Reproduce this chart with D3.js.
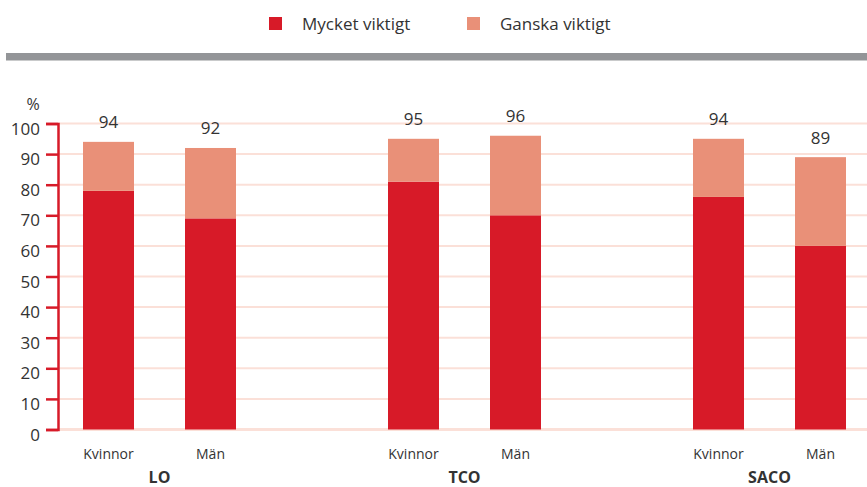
<!DOCTYPE html>
<html>
<head>
<meta charset="utf-8">
<script src="https://cdn.jsdelivr.net/npm/d3@7"></script>
<style>
  body { margin: 0; background: #fff; }
  svg text { font-family: "Open Sans", "Noto Sans", sans-serif; fill: #333; }
</style>
</head>
<body>
<div id="chart"></div>
<script>
//data
var groups = ["LO", "TCO", "SACO"];
var subGroups = ["Kvinnor", "Män"];
var seriesNames = ["Mycket viktigt", "Ganska viktigt"];
//values in group order, Kvinnor then Män
var mycket = [78, 69, 81, 70, 76, 60];
var ganska = [16, 23, 14, 26, 19, 29];
var totals = [94, 92, 95, 96, 94, 89];
var yTicks = [0, 10, 20, 30, 40, 50, 60, 70, 80, 90, 100];

var colors = ["#d71a28", "#e99078"];

var width = 867, height = 487;

//build rows for stacking
var rows = [];
groups.forEach(function(g, gi) {
    subGroups.forEach(function(s, si) {
        var i = gi * 2 + si;
        rows.push({group: g, sub: s, "Mycket viktigt": mycket[i], "Ganska viktigt": ganska[i], total: totals[i]});
    });
});

var svg = d3.select("#chart").append("svg")
    .attr("width", width)
    .attr("height", height);

//scales
var yScale = d3.scaleLinear().domain([0, 100]).range([429.5, 123.5]);
var xGroup = d3.scalePoint().domain(groups).range([159.5, 769.5]);
var xSub = d3.scaleBand().domain(subGroups).range([-76.5, 76.5]).paddingInner(0.5).paddingOuter(0);

//legend
var legend = svg.append("g").attr("class", "legend");
var legendX = [269, 467];
seriesNames.forEach(function(name, i) {
    legend.append("rect")
        .attr("x", legendX[i]).attr("y", 17)
        .attr("width", 13).attr("height", 13)
        .attr("fill", colors[i]);
    legend.append("text")
        .attr("x", legendX[i] + 33).attr("y", 30)
        .style("font-size", "17px")
        .text(name);
});

//grey rule under the legend
svg.append("rect")
    .attr("x", 6).attr("y", 53)
    .attr("width", width - 6).attr("height", 7.5)
    .attr("fill", "#939598");

//gridlines
svg.append("g").selectAll("line")
    .data(yTicks)
    .enter().append("line")
    .attr("x1", 58).attr("x2", width)
    .attr("y1", d => yScale(d)).attr("y2", d => yScale(d))
    .attr("stroke", "#fbe0d8")
    .attr("stroke-width", d => d === 0 ? 3 : 2);

//stacked bars
var stack = d3.stack().keys(seriesNames);
var stacked = stack(rows);

svg.append("g").selectAll("g")
    .data(stacked)
    .enter().append("g")
    .attr("fill", (d, i) => colors[i])
    .selectAll("rect")
    .data(d => d)
    .enter().append("rect")
    .attr("x", d => xGroup(d.data.group) + xSub(d.data.sub))
    .attr("width", xSub.bandwidth())
    .attr("y", d => yScale(d[1]))
    .attr("height", d => yScale(d[0]) - yScale(d[1]));

//total labels above bars
svg.append("g").selectAll("text")
    .data(rows)
    .enter().append("text")
    .attr("x", d => xGroup(d.group) + xSub(d.sub) + xSub.bandwidth() / 2)
    .attr("y", d => yScale(d["Mycket viktigt"] + d["Ganska viktigt"]) - 13.5)
    .attr("text-anchor", "middle")
    .style("font-size", "17px")
    .text(d => d.total);

//y axis
var leftAxis = d3.axisLeft(yScale).tickValues(yTicks).tickSize(12).tickPadding(6);
var yAxis = svg.append("g")
    .attr("transform", "translate(58,0)")
    .call(leftAxis);
yAxis.select(".domain").attr("stroke", colors[0]).attr("stroke-width", 2.5);
yAxis.selectAll(".tick line").attr("stroke", colors[0]).attr("stroke-width", 2.5);
//labels sit a little below their ticks in the original
yAxis.selectAll(".tick text")
    .attr("dy", "0.62em")
    .style("font-size", "17px")
    .style("font-family", "'Open Sans', 'Noto Sans', sans-serif")
    .attr("fill", "#333");

svg.append("text")
    .attr("x", 33).attr("y", 110)
    .attr("text-anchor", "middle")
    .style("font-size", "16px")
    .text("%");

//sub labels
svg.append("g").selectAll("text")
    .data(rows)
    .enter().append("text")
    .attr("x", d => xGroup(d.group) + xSub(d.sub) + xSub.bandwidth() / 2)
    .attr("y", 459)
    .attr("text-anchor", "middle")
    .style("font-size", "14px")
    .text(d => d.sub);

//group labels
svg.append("g").selectAll("text")
    .data(groups)
    .enter().append("text")
    .attr("x", d => xGroup(d))
    .attr("y", 483)
    .attr("text-anchor", "middle")
    .style("font-size", "16px")
    .style("font-weight", "bold")
    .text(d => d);
</script>
</body>
</html>
